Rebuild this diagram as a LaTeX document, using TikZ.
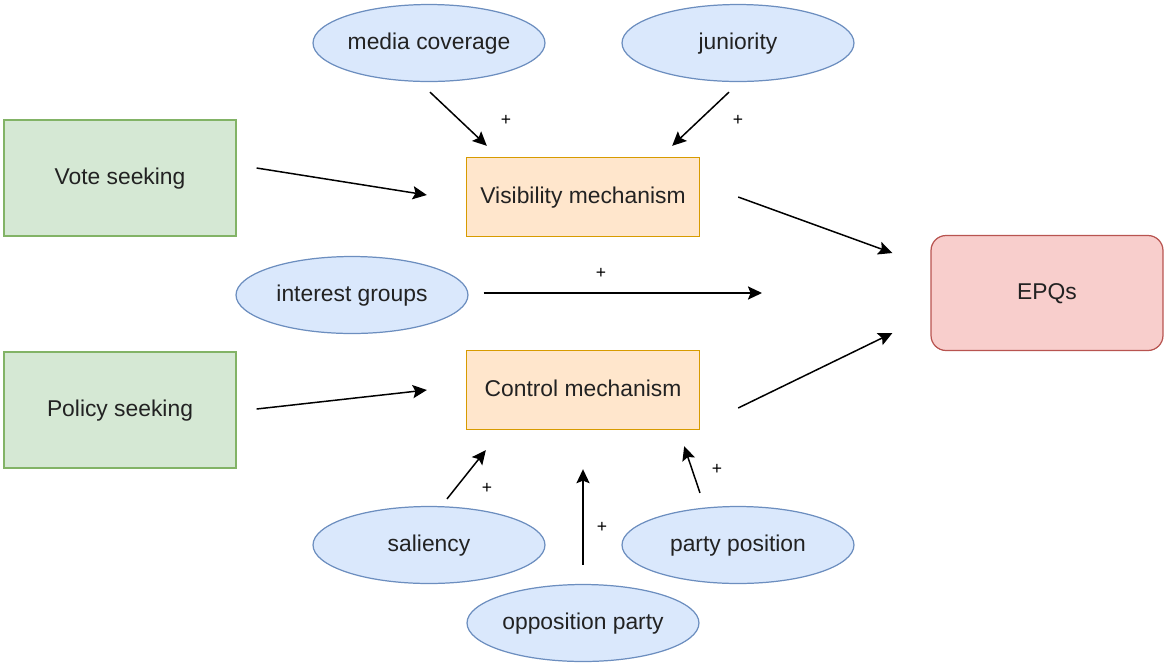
\documentclass[tikz,border=0pt]{standalone}
\usepackage{fontspec}
\setmainfont{Liberation Sans}
\usetikzlibrary{arrows.meta,calc,shapes.geometric}
\definecolor{blfill}{HTML}{DAE8FC}
\definecolor{bldraw}{HTML}{6C8EBF}
\definecolor{grfill}{HTML}{D5E8D4}
\definecolor{grdraw}{HTML}{82B366}
\definecolor{orfill}{HTML}{FFE6CC}
\definecolor{ordraw}{HTML}{D79B00}
\definecolor{rdfill}{HTML}{F8CECC}
\definecolor{rddraw}{HTML}{B85450}
\definecolor{txt}{HTML}{222222}
\begin{document}
\begin{tikzpicture}[x=0.02cm,y=-0.02cm,
		every node/.style={font=\fontsize{13}{15}\selectfont,text=txt,text height=1.5ex,text depth=0.1ex},
		factor/.style={ellipse,draw=bldraw,fill=blfill,line width=0.7pt,minimum width=4.64cm,minimum height=1.54cm,inner sep=0pt},
		goal/.style={rectangle,draw=grdraw,fill=grfill,line width=0.7pt,minimum width=4.64cm,minimum height=2.32cm},
		mech/.style={rectangle,draw=ordraw,fill=orfill,line width=0.8pt,minimum width=4.66cm,minimum height=1.58cm},
		outc/.style={rectangle,rounded corners=0.3cm,draw=rddraw,fill=rdfill,line width=0.7pt,minimum width=4.64cm,minimum height=2.3cm},
		arr/.style={-{Stealth[length=8pt,width=7.5pt,inset=1.5pt]},line width=0.85pt,black},
		plus/.style={font=\fontsize{10}{11}\selectfont,text=black,inner sep=0pt}]
		\useasboundingbox (0,0) rectangle (1164,664);
		\node[factor] (media) at (429,43) {media coverage};
		\node[factor] (junior) at (738,43) {juniority};
		\node[goal] (vote) at (120,178) {Vote seeking};
		\node[goal] (policy) at (120,410) {Policy seeking};
		\node[mech] (vis) at (583,197) {Visibility mechanism};
		\node[mech] (ctrl) at (583,390) {Control mechanism};
		\node[factor] (interest) at (352,295) {interest groups};
		\node[outc] (epq) at (1047,293) {EPQs};
		\node[factor] (salience) at (429,545) {saliency};
		\node[factor] (partypos) at (738,545) {party position};
		\node[factor] (opposition) at (583,623) {opposition party};
		\coordinate (interestend) at (762,293);
		\draw[arr] ($(media.south)+(1,10)$) -- ($(vis.north west)+(21,-11)$);
		\draw[arr] ($(junior.south)+(-9,10)$) -- ($(vis.north east)+(-28,-11)$);
		\draw[arr] ($(vote.east)+(20,-10)$) -- ($(vis.west)+(-39,-2)$);
		\draw[arr] ($(vis.east)+(38,0)$) -- ($(epq.west)+(-38,-40)$);
		\draw[arr] ($(interest.east)+(15,-2)$) -- (interestend);
		\draw[arr] ($(policy.east)+(20,-1)$) -- ($(ctrl.west)+(-39,0)$);
		\draw[arr] ($(ctrl.east)+(38,18)$) -- ($(epq.west)+(-38,40)$);
		\draw[arr] ($(salience.north)+(18,-7)$) -- ($(ctrl.south west)+(20,20)$);
		\draw[arr] ($(opposition.north)+(0,-19)$) -- ($(ctrl.south)+(0,39)$);
		\draw[arr] ($(partypos.north)+(-38,-13)$) -- ($(ctrl.south east)+(-16,16)$);
		\node[plus] (pmedia) at (506,119) {+};
		\node[plus] (pjunior) at (738,119) {+};
		\node[plus] (pinterest) at (601,272) {+};
		\node[plus] (psalience) at (487,487) {+};
		\node[plus] (popposition) at (602,526) {+};
		\node[plus] (ppartypos) at (717,468) {+};
	\end{tikzpicture}
\end{document}
